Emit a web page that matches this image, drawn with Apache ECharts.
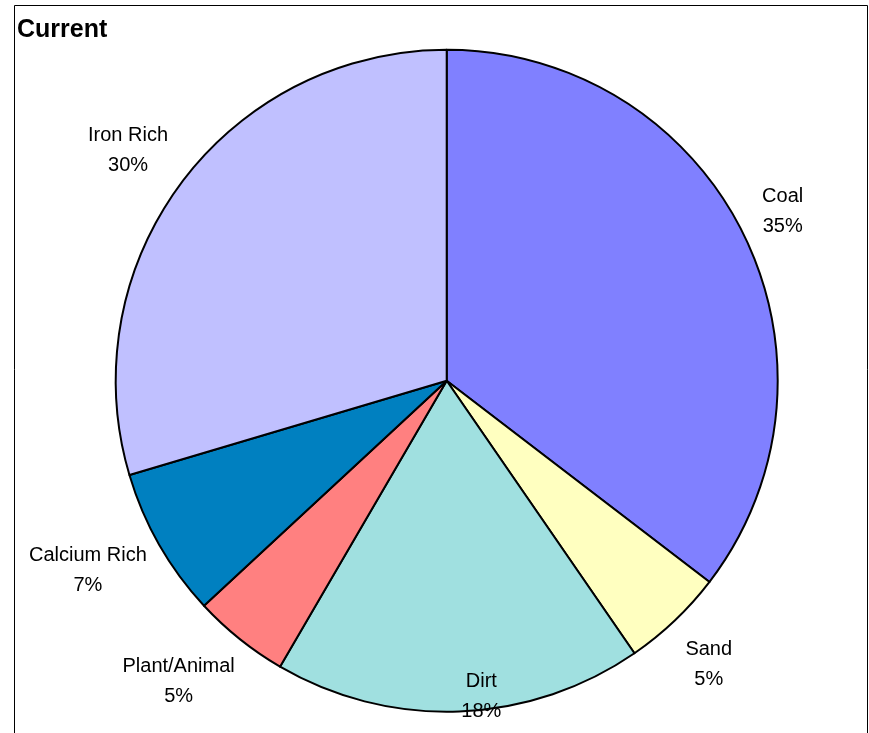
<!DOCTYPE html>
<html>
<head>
<meta charset="utf-8">
<title>Current</title>
<script src="https://cdn.jsdelivr.net/npm/echarts@6/dist/echarts.min.js"></script>
<style>
  html, body { margin: 0; padding: 0; background: #ffffff; }
  #chart { width: 869px; height: 733px; }
</style>
</head>
<body>
<div id="chart"></div>
<script>
// Soil composition shares (percent)
const categories = ['Coal', 'Sand', 'Dirt', 'Plant/Animal', 'Calcium Rich', 'Iron Rich'];
const shares = [35.4, 5.0, 18.0, 4.7, 7.3, 29.6];
const sliceColors = ['#8080FF', '#FFFFC0', '#A0E0E0', '#FF8080', '#0080C0', '#C0C0FF'];

// Pie geometry (px) and label placement around it
const pieCenter = [446.7, 380.7];
const pieRadius = 331;
const labelRadius = [376, 386, 318, 403, 406, 393];
const labelTurn = [-0.4, 0.8, -4.1, 3.0, 1.8, -0.9];

const total = shares.reduce((a, b) => a + b, 0);

function labelPosition(i) {
  let before = 0;
  for (let k = 0; k < i; k++) before += shares[k];
  const frac = (before + shares[i] / 2) / total;
  const a = (frac * 360 + labelTurn[i]) * Math.PI / 180;
  return [pieCenter[0] + labelRadius[i] * Math.sin(a), pieCenter[1] - labelRadius[i] * Math.cos(a)];
}

const chart = echarts.init(document.getElementById('chart'), null, { renderer: 'canvas' });

chart.setOption({
  backgroundColor: '#ffffff',
  animation: false,
  title: {
    text: 'Current',
    left: 17,
    top: 18,
    padding: 0,
    textStyle: {
      fontFamily: 'Liberation Sans, Arial, sans-serif',
      fontWeight: 'bold',
      fontSize: 25,
      color: '#000000'
    }
  },
  graphic: [{
    type: 'rect',
    shape: { x: 14.5, y: 5.5, width: 853, height: 760 },
    style: { fill: 'none', stroke: '#000000', lineWidth: 1 },
    silent: true,
    z: 0
  }],
  series: [{
    type: 'pie',
    center: pieCenter,
    radius: pieRadius,
    startAngle: 90,
    clockwise: true,
    percentPrecision: 0,
    avoidLabelOverlap: false,
    data: categories.map((name, i) => ({
      name: name,
      value: shares[i],
      itemStyle: { color: sliceColors[i] }
    })),
    itemStyle: { borderColor: '#000000', borderWidth: 2 },
    emphasis: { disabled: true },
    label: {
      show: true,
      position: 'inside',
      formatter: '{b}\n{d}%',
      fontFamily: 'Liberation Sans, Arial, sans-serif',
      fontSize: 20,
      lineHeight: 30,
      color: '#000000',
      textBorderWidth: 0
    },
    labelLine: { show: false },
    labelLayout: function (params) {
      const p = labelPosition(params.dataIndex);
      return { x: p[0], y: p[1], align: 'center', verticalAlign: 'middle' };
    }
  }]
});
</script>
</body>
</html>
